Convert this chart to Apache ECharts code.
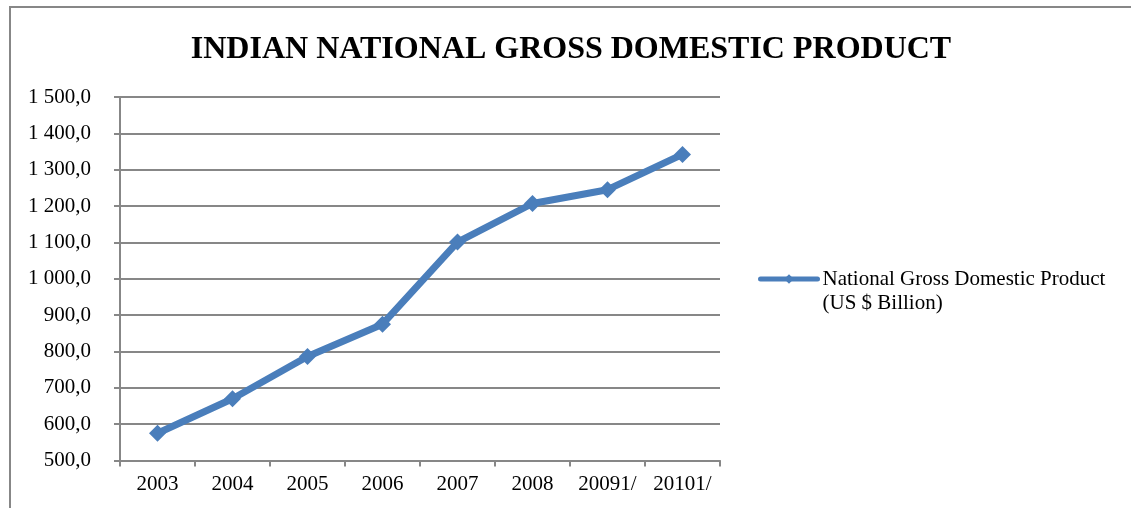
<!DOCTYPE html>
<html>
<head>
<meta charset="utf-8">
<script src="https://cdn.jsdelivr.net/npm/echarts@6/dist/echarts.min.js"></script>
<style>
  html, body { margin: 0; padding: 0; background: #fff; }
  #chart { width: 1131px; height: 508px; }
</style>
</head>
<body>
<div id="chart"></div>
<script>
// Indian GDP by year (US $ billion)
const years = ['2003', '2004', '2005', '2006', '2007', '2008', '20091/', '20101/'];
const gdp = [575, 670, 786, 875, 1101, 1207, 1245, 1342];
const seriesName = 'National Gross Domestic Product (US $ Billion)';
const titleText = 'INDIAN NATIONAL GROSS DOMESTIC PRODUCT';

const serif = '"Liberation Serif", "Times New Roman", serif';
const gridGray = '#878787';
const blue = '#4a7ebb';

// "1 500,0" style: space thousands separator, comma decimal
function fmtValue(v) {
  const s = Math.round(v).toString().replace(/\B(?=(\d{3})+(?!\d))/g, ' ');
  return s + ',0';
}

const chart = echarts.init(document.getElementById('chart'), null, { renderer: 'canvas' });

chart.setOption({
  animation: false,
  backgroundColor: '#fff',
  title: {
    text: titleText,
    left: 566,
    textAlign: 'center',
    top: 29,
    textStyle: { fontFamily: serif, fontSize: 32, fontWeight: 'bold', color: '#000' }
  },
  legend: {
    left: 758,
    top: 243,
    padding: 0,
    itemWidth: 57,
    itemHeight: 12,
    itemGap: 0,
    lineStyle: { width: 5, cap: 'round' },
    // blank first line keeps the icon level with the first line of the name
    formatter: function (name) {
      return '\n' + name.replace(' (US', '\n(US');
    },
    textStyle: { fontFamily: serif, fontSize: 21, color: '#000', lineHeight: 24 }
  },
  graphic: [{
    type: 'rect',
    shape: { x: 10, y: 7, width: 1400, height: 800 },
    style: { fill: 'none', stroke: gridGray, lineWidth: 2 },
    silent: true
  }],
  grid: { left: 120, right: 411, top: 97, bottom: 47.5 },
  xAxis: {
    type: 'category',
    data: years,
    boundaryGap: true,
    axisLine: { lineStyle: { color: gridGray, width: 2 } },
    axisTick: { show: true, length: 6, interval: 0, alignWithLabel: false, lineStyle: { color: gridGray, width: 2 } },
    axisLabel: { fontFamily: serif, fontSize: 21, color: '#000', margin: 13, interval: 0 },
    splitLine: { show: false }
  },
  yAxis: {
    type: 'value',
    min: 500,
    max: 1500,
    interval: 100,
    axisLine: { show: true, lineStyle: { color: gridGray, width: 2 } },
    axisTick: { show: true, length: 6, lineStyle: { color: gridGray, width: 2 } },
    axisLabel: { fontFamily: serif, fontSize: 21, color: '#000', margin: 29, formatter: fmtValue },
    splitLine: { show: true, lineStyle: { color: gridGray, width: 2 } }
  },
  series: [{
    name: seriesName,
    type: 'line',
    data: gdp,
    symbol: 'diamond',
    symbolSize: 17,
    lineStyle: { color: blue, width: 7 },
    itemStyle: { color: blue },
    z: 3
  }]
});
</script>
</body>
</html>
